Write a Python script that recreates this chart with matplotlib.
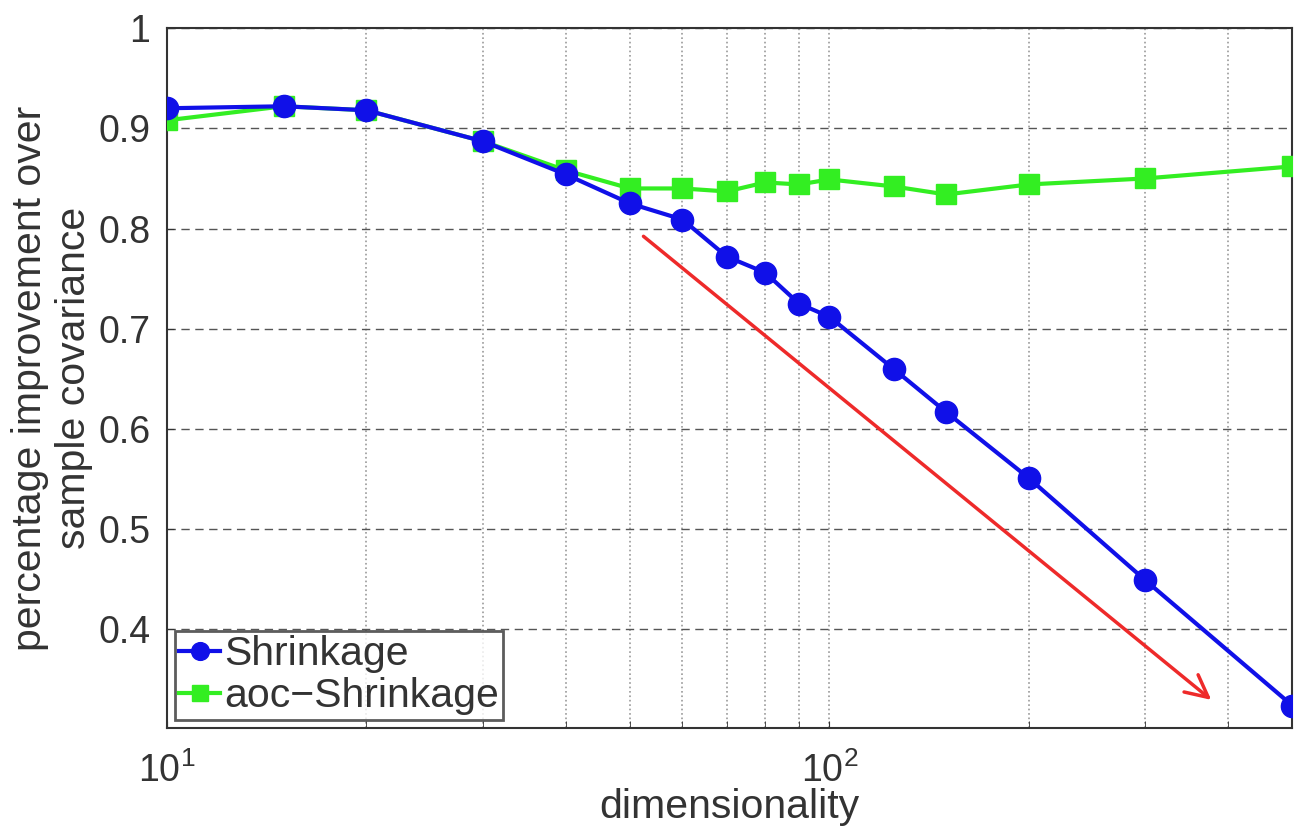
import numpy as np
import matplotlib.pyplot as plt
from matplotlib.ticker import FixedLocator, NullFormatter

plt.rcParams['font.family'] = ['Liberation Sans', 'DejaVu Sans']
plt.rcParams['mathtext.fontset'] = 'custom'
plt.rcParams['mathtext.rm'] = 'Liberation Sans'
plt.rcParams['mathtext.it'] = 'Liberation Sans'

# data
dims = [10, 15, 20, 30, 40, 50, 60, 70, 80, 90, 100, 125, 150, 200, 300, 500]
shrinkage = [0.920, 0.922, 0.918, 0.887, 0.854, 0.825, 0.809, 0.772, 0.756,
             0.725, 0.712, 0.660, 0.617, 0.551, 0.449, 0.324]
aoc_shrinkage = [0.908, 0.922, 0.918, 0.887, 0.858, 0.840, 0.840, 0.837, 0.846,
                 0.844, 0.849, 0.842, 0.834, 0.844, 0.850, 0.862]
arrow_start = (52, 0.794)
arrow_end = (380, 0.328)
yticks = [0.4, 0.5, 0.6, 0.7, 0.8, 0.9, 1.0]
ytick_labels = ['0.4', '0.5', '0.6', '0.7', '0.8', '0.9', '1']

fig = plt.figure(figsize=(12.95, 8.26), dpi=100)
ax = fig.add_axes([0.129, 0.119, 0.869, 0.847])

ax.plot(dims, shrinkage, color='#1010e8', lw=3, marker='o', ms=16,
        label='Shrinkage', zorder=4)
ax.plot(dims, aoc_shrinkage, color='#33ee22', lw=3, marker='s', ms=14,
        label='aoc\u2212Shrinkage', zorder=3)

ax.annotate('', xy=arrow_end, xytext=arrow_start,
            arrowprops=dict(arrowstyle='->', color='#ee2a2a', lw=2.5,
                            mutation_scale=40), zorder=5)

ax.set_xscale('log')
ax.set_xlim(10, 500)
ax.set_ylim(0.302, 1.0)
ax.xaxis.set_major_locator(FixedLocator([10, 100]))
ax.xaxis.set_minor_locator(FixedLocator([20, 30, 40, 50, 60, 70, 80, 90, 200, 300, 400]))
ax.xaxis.set_minor_formatter(NullFormatter())
ax.set_xticks([10, 100])
ax.set_xticklabels(['$10^1$', '$10^2$'])
ax.set_yticks(yticks)
ax.set_yticklabels(ytick_labels)

ax.grid(True, which='major', axis='y', color='#555555', ls=(0, (6, 4)), lw=1)
ax.grid(True, which='both', axis='x', color='#999999', ls=':', lw=1.2)
ax.tick_params(axis='both', which='both', direction='in', labelsize=27,
               colors='#333333', length=5, pad=12)
ax.tick_params(axis='x', pad=18)
for s in ax.spines.values():
    s.set_color('#333333')
    s.set_linewidth(1.5)

ax.set_xlabel('dimensionality', fontsize=29.5, color='#333333', labelpad=-2)
ax.set_ylabel('percentage improvement over\nsample covariance', fontsize=29.5,
              color='#333333', labelpad=4, linespacing=1.2)

leg = ax.legend(loc='lower left', fontsize=29.5, frameon=True, fancybox=False,
                edgecolor='#333333', handlelength=1.0, handletextpad=0.1,
                borderpad=0.1, labelspacing=0.1, borderaxespad=0.2,
                markerscale=0.8)
leg.get_frame().set_linewidth(2)
for t in leg.get_texts():
    t.set_color('#333333')

fig.savefig('out.png', dpi=100)
